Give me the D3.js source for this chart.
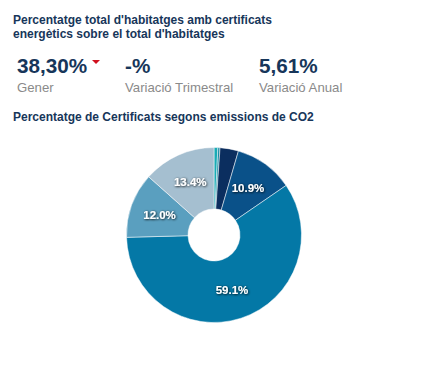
<!DOCTYPE html>
<html>
<head>
<meta charset="utf-8">
<script src="https://cdn.jsdelivr.net/npm/d3@7"></script>
<style>
  body { margin: 0; background: #fff; font-family: "Liberation Sans", Arial, sans-serif; }
</style>
</head>
<body>
<div id="chart"></div>
<script>
// data
var kpiValues = ["38,30%", "-%", "5,61%"];
var kpiLabels = ["Gener", "Variació Trimestral", "Variació Anual"];
var sliceNames = ["A", "B", "C", "D", "E", "F", "G"];
var sliceValues = [0.7, 0.4, 3.4, 10.9, 59.1, 12.0, 13.4];
var sliceColors = ["#1aabb5", "#1a8ba3", "#0b2e5f", "#0a5189", "#0478a6", "#5a9fbf", "#a5bfd0"];

var width = 437, height = 377;
var navy = "#17365a";

var svg = d3.select("#chart")
  .append("svg")
    .attr("width", width)
    .attr("height", height);

// title
svg.append("text")
    .attr("x", 13).attr("y", 23.5)
    .attr("font-size", "12px").attr("font-weight", "bold")
    .attr("fill", navy)
    .text("Percentatge total d'habitatges amb certificats");
svg.append("text")
    .attr("x", 13).attr("y", 38)
    .attr("font-size", "12px").attr("font-weight", "bold")
    .attr("fill", navy)
    .text("energètics sobre el total d'habitatges");

// kpis
var kpiX = d3.scaleOrdinal().domain(kpiLabels).range([17, 125, 259]);
kpiLabels.forEach(function(l, i) {
  svg.append("text")
      .attr("x", kpiX(l)).attr("y", 72.5)
      .attr("font-size", "20.7px").attr("font-weight", "bold")
      .attr("fill", navy)
      .text(kpiValues[i]);
  svg.append("text")
      .attr("x", kpiX(l)).attr("y", 92)
      .attr("font-size", "13.2px")
      .attr("fill", "#8a8a8a")
      .text(l);
});

// red down marker
svg.append("path")
    .attr("d", "M92,60 L100,60 L96,64 Z")
    .attr("fill", "#d0101e");

// subtitle
svg.append("text")
    .attr("x", 13).attr("y", 121)
    .attr("font-size", "12px").attr("font-weight", "bold")
    .attr("fill", navy)
    .text("Percentatge de Certificats segons emissions de CO2");

// donut
var cx = 214, cy = 235, outerR = 87.5, innerR = 26;
var g = svg.append("g")
    .attr("transform", "translate(" + cx + "," + cy + ")");

var color = d3.scaleOrdinal().domain(sliceNames).range(sliceColors);
var pie = d3.pie().sort(null).value(function(d, i) { return sliceValues[i]; });
var arcs = pie(sliceNames);
var arc = d3.arc().innerRadius(innerR).outerRadius(outerR);
var labelArc = d3.arc().innerRadius(58).outerRadius(58);

g.selectAll(".slice")
  .data(arcs)
  .enter()
  .append("path")
    .attr("class", "slice")
    .attr("d", arc)
    .attr("fill", function(d) { return color(d.data); })
    .attr("stroke", "#ffffff")
    .attr("stroke-width", 0.5);

var defs = svg.append("defs");
var f = defs.append("filter").attr("id", "shadow")
    .attr("x", "-20%").attr("y", "-40%").attr("width", "140%").attr("height", "180%");
f.append("feDropShadow")
    .attr("dx", 0.6).attr("dy", 0.6).attr("stdDeviation", 0.9)
    .attr("flood-color", "#000").attr("flood-opacity", 1);

g.selectAll(".lbl")
  .data(arcs.filter(function(d) { return d.value > 5; }))
  .enter()
  .append("text")
    .attr("class", "lbl")
    .attr("transform", function(d) { return "translate(" + labelArc.centroid(d) + ")"; })
    .attr("dy", "0.35em")
    .attr("text-anchor", "middle")
    .attr("font-size", "11.5px").attr("font-weight", "bold")
    .attr("fill", "#ffffff")
    .attr("filter", "url(#shadow)")
    .text(function(d) { return d.value.toFixed(1) + "%"; });
</script>
</body>
</html>
